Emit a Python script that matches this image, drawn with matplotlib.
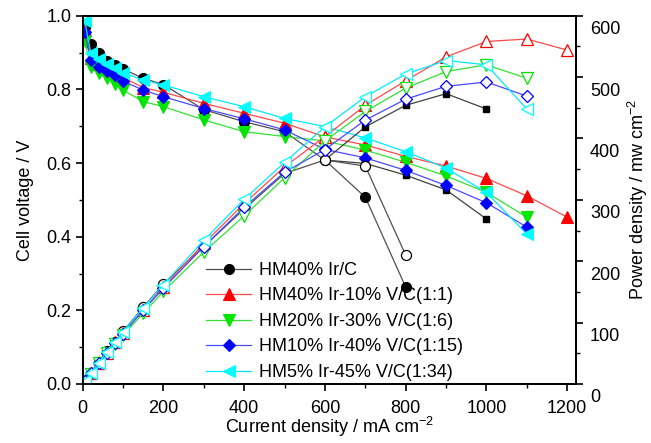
import matplotlib
matplotlib.use("Agg")
import matplotlib.pyplot as plt
from matplotlib.ticker import MultipleLocator
from matplotlib.transforms import ScaledTranslation

plt.rcParams['font.family'] = ['Liberation Sans', 'DejaVu Sans']
plt.rcParams['mathtext.fontset'] = 'custom'
plt.rcParams['mathtext.rm'] = 'Liberation Sans'

# ---- data ----
labels = ["HM40% Ir/C", "HM40% Ir-10% V/C(1:1)", "HM20% Ir-30% V/C(1:6)",
          "HM10% Ir-40% V/C(1:15)", "HM5% Ir-45% V/C(1:34)"]

x_black = [5, 20, 40, 60, 80, 100, 150, 200, 300, 400, 500, 600, 700, 800]
v_black = [0.970, 0.922, 0.900, 0.878, 0.866, 0.855, 0.830, 0.813, 0.745, 0.712, 0.685, 0.608, 0.507, 0.263]
p_black = [5, 18, 36, 53, 69, 86, 125, 163, 224, 285, 343, 365, 355, 210]

x_sq = [600, 700, 800, 900, 1000]
v_sq = [0.608, 0.599, 0.567, 0.527, 0.448]
p_sq = [365, 419, 454, 473, 448]

x_red = [5, 20, 40, 60, 80, 100, 150, 200, 300, 400, 500, 600, 700, 800, 900, 1000, 1100, 1200]
v_red = [0.960, 0.885, 0.868, 0.855, 0.845, 0.832, 0.805, 0.792, 0.762, 0.735, 0.708, 0.671, 0.649, 0.618, 0.592, 0.558, 0.511, 0.453]
p_red = [5, 18, 35, 51, 68, 83, 121, 158, 229, 294, 354, 403, 454, 494, 533, 558, 562, 544]

x_other = [5, 20, 40, 60, 80, 100, 150, 200, 300, 400, 500, 600, 700, 800, 900, 1000, 1100]
v_green = [0.930, 0.862, 0.845, 0.830, 0.815, 0.798, 0.767, 0.753, 0.717, 0.685, 0.672, 0.660, 0.635, 0.602, 0.565, 0.520, 0.453]
p_green = [5, 17, 34, 50, 65, 80, 115, 151, 215, 274, 336, 396, 444, 482, 509, 520, 498]
v_blue = [0.955, 0.880, 0.862, 0.850, 0.838, 0.822, 0.798, 0.780, 0.748, 0.720, 0.690, 0.637, 0.614, 0.580, 0.539, 0.492, 0.426]
p_blue = [5, 18, 34, 51, 67, 82, 120, 156, 224, 288, 345, 382, 430, 464, 485, 492, 469]
v_cyan = [0.985, 0.900, 0.882, 0.868, 0.858, 0.845, 0.825, 0.812, 0.780, 0.753, 0.721, 0.699, 0.668, 0.631, 0.586, 0.520, 0.407]
p_cyan = [5, 18, 35, 52, 69, 85, 124, 162, 234, 301, 361, 419, 468, 505, 527, 520, 448]

# ---- figure ----
W, H = 651, 443
fig = plt.figure(figsize=(W / 100, H / 100), dpi=100)
ax = fig.add_axes([82.7 / W, 1 - 384 / H, (575.7 - 82.7) / W, (384 - 15.7) / H])
ax2 = ax.twinx()

series = [
    (x_black, v_black, p_black, 'o', '#000000', '#505050', 7.2),
    (x_red, v_red, p_red, '^', '#ff0000', '#ff4a4a', 8.4),
    (x_other, v_green, p_green, 'v', '#00e600', '#33e033', 8.4),
    (x_other, v_blue, p_blue, 'D', '#0000ff', '#4a4aff', 6.0),
    (x_other, v_cyan, p_cyan, '<', '#00ffff', '#00e8ff', 8.4),
]

lw = 0.9
handles = []
for (xs, vs, ps, m, mc, lc, ms), lab in zip(series, labels):
    h, = ax.plot(xs, vs, color=lc, lw=lw, marker=m, ms=ms, mfc=mc, mec=mc, mew=0.8, label=lab)
    handles.append(h)
    ax2.plot(xs, ps, color=lc, lw=lw, marker=m, ms=ms, mfc='white', mec=mc, mew=0.9)

# extra black-square curve
ax.plot(x_sq, v_sq, color='#404040', lw=lw, marker='s', ms=4.3, mfc='black', mec='black',
        markevery=[1, 2, 3, 4], zorder=1.5)
ax2.plot(x_sq, p_sq, color='#404040', lw=lw, marker='s', ms=4.3, mfc='black', mec='black',
         markevery=[1, 2, 3, 4], zorder=1.5)

ax.set_xlim(0, 1221)
ax.set_ylim(0, 1.0)
ax2.set_ylim(0, 600)

fs = 13
ax.xaxis.set_major_locator(MultipleLocator(200))
ax.xaxis.set_minor_locator(MultipleLocator(100))
ax.yaxis.set_major_locator(MultipleLocator(0.2))
ax.yaxis.set_minor_locator(MultipleLocator(0.1))
ax2.yaxis.set_major_locator(MultipleLocator(100))
ax2.yaxis.set_minor_locator(MultipleLocator(50))
ax.yaxis.set_major_formatter(matplotlib.ticker.FormatStrFormatter('%.1f'))

for a in (ax, ax2):
    a.tick_params(which='major', direction='out', length=5.3, width=1.2, labelsize=fs, pad=3)
    a.tick_params(which='minor', direction='out', length=3.0, width=1.0)
    for s in a.spines.values():
        s.set_linewidth(1.3)
ax.tick_params(axis='y', which='both', right=False)
ax.tick_params(axis='x', pad=6)
ax2.tick_params(axis='y', pad=5)

off = ScaledTranslation(0, -0.12, fig.dpi_scale_trans)
for lab in ax2.get_yticklabels():
    lab.set_transform(lab.get_transform() + off)

ax.set_xlabel("Current density / mA cm$^{\\mathregular{-2}}$", fontsize=fs, labelpad=-1)
ax.set_ylabel("Cell voltage / V", fontsize=fs, labelpad=9)
ax2.set_ylabel("Power density / mw cm$^{\\mathregular{-2}}$", fontsize=fs, labelpad=4)

leg = ax2.legend(handles, labels, loc='upper left', bbox_to_anchor=(206 / W, 1 - 262 / H),
                 bbox_transform=fig.transFigure, frameon=False, fontsize=fs,
                 borderpad=0, borderaxespad=0, handlelength=2.5, handletextpad=0.45,
                 labelspacing=0.47)

fig.savefig("out.png", dpi=100)
